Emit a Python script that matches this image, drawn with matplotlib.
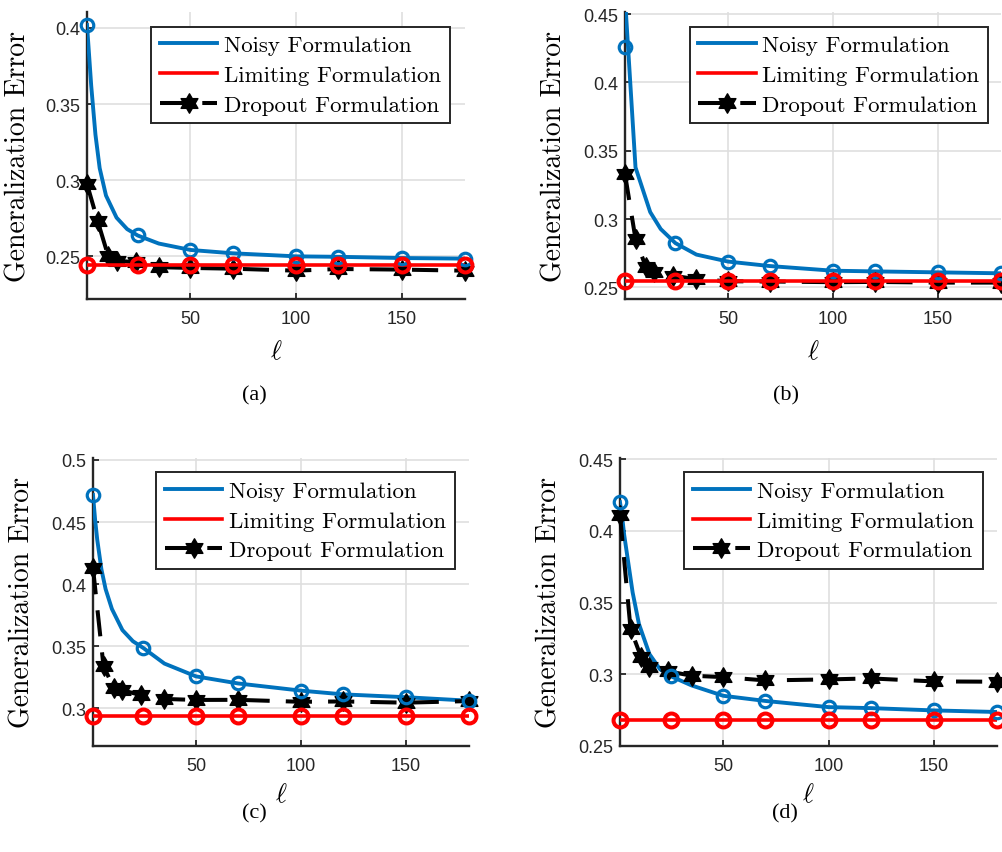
import numpy as np
import matplotlib
matplotlib.use("Agg")
import matplotlib.pyplot as plt
from matplotlib.path import Path

# ---------------- data ----------------
noisy_mk_x = [1, 25, 50, 70, 100, 120, 150, 180]
limit_x = [1, 25, 50, 70, 100, 120, 150, 180]
drop_x = [1, 6, 11, 15, 24, 35, 50, 70, 100, 120, 150, 180]
xticks = [50, 100, 150]

# (a)
a_noisy_x = [1, 3, 5, 7, 10, 15, 20, 25, 35, 50, 70, 100, 120, 150, 180]
a_noisy_y = [0.402, 0.362, 0.330, 0.308, 0.290, 0.2755, 0.268, 0.2638, 0.2585,
             0.2543, 0.2521, 0.2501, 0.2498, 0.2490, 0.2486]
a_noisy_mk = [0.402, 0.2638, 0.2543, 0.2521, 0.2501, 0.2498, 0.2490, 0.2486]
a_limit = [0.2443, 0.2443, 0.2443, 0.2443, 0.2443, 0.2443, 0.2443, 0.2443]
a_drop = [0.2976, 0.2735, 0.2505, 0.2473, 0.2462, 0.2430, 0.2425, 0.2420,
          0.2407, 0.2418, 0.2414, 0.2407]
a_yticks = [0.25, 0.3, 0.35, 0.4]
a_yticklabels = ["0.25", "0.3", "0.35", "0.4"]

# (b)
b_noisy_x = [1, 6, 13, 18, 25, 35, 50, 70, 100, 120, 150, 180]
b_noisy_y = [0.462, 0.3378, 0.3051, 0.2927, 0.2824, 0.2740, 0.2689, 0.2656,
             0.2622, 0.2617, 0.2610, 0.2603]
b_noisy_mk = [0.4256, 0.2824, 0.2689, 0.2656, 0.2622, 0.2617, 0.2610, 0.2603]
b_limit = [0.2545, 0.2545, 0.2545, 0.2545, 0.2545, 0.2545, 0.2545, 0.2545]
b_drop = [0.3329, 0.2854, 0.2647, 0.2610, 0.2585, 0.2560, 0.2545, 0.2543,
          0.2538, 0.2540, 0.2535, 0.2535]
b_yticks = [0.25, 0.3, 0.35, 0.4, 0.45]
b_yticklabels = ["0.25", "0.3", "0.35", "0.4", "0.45"]

# (c)
c_noisy_x = [1, 2, 3, 5, 7, 10, 15, 20, 25, 35, 50, 70, 100, 120, 150, 180]
c_noisy_y = [0.4718, 0.452, 0.436, 0.412, 0.396, 0.380, 0.363, 0.354, 0.3485,
             0.336, 0.3257, 0.3200, 0.3142, 0.3112, 0.3089, 0.3061]
c_noisy_mk = [0.4718, 0.3485, 0.3257, 0.3200, 0.3142, 0.3112, 0.3089, 0.3061]
c_limit = [0.2941, 0.2941, 0.2941, 0.2941, 0.2941, 0.2941, 0.2941, 0.2941]
c_drop = [0.4128, 0.3340, 0.3160, 0.3145, 0.3105, 0.3075, 0.3067, 0.3068,
          0.3052, 0.3055, 0.3045, 0.3058]
c_yticks = [0.3, 0.35, 0.4, 0.45, 0.5]
c_yticklabels = ["0.3", "0.35", "0.4", "0.45", "0.5"]

# (d)
d_noisy_x = [1, 2, 3, 5, 7, 10, 15, 20, 25, 35, 50, 70, 100, 120, 150, 180]
d_noisy_y = [0.4199, 0.410, 0.397, 0.377, 0.357, 0.335, 0.314, 0.3035, 0.2987,
             0.2922, 0.2850, 0.2814, 0.2771, 0.2764, 0.2748, 0.2737]
d_noisy_mk = [0.4199, 0.2987, 0.2850, 0.2814, 0.2771, 0.2764, 0.2748, 0.2737]
d_limit = [0.2678, 0.2678, 0.2678, 0.2678, 0.2678, 0.2678, 0.2678, 0.2678]
d_drop = [0.4110, 0.3317, 0.3120, 0.3050, 0.3020, 0.2990, 0.2980, 0.2957,
          0.2964, 0.2971, 0.2950, 0.2948]
d_yticks = [0.25, 0.3, 0.35, 0.4, 0.45]
d_yticklabels = ["0.25", "0.3", "0.35", "0.4", "0.45"]

legend_labels = ["Noisy Formulation", "Limiting Formulation", "Dropout Formulation"]
captions = ["(a)", "(b)", "(c)", "(d)"]

# ---------------- style ----------------
BLUE = "#0072BD"
RED = "#FF0000"
AXC = "#262626"
W, H = 1003, 853

plt.rcParams["mathtext.fontset"] = "cm"


def hexagram():
    verts = []
    for k in range(12):
        ang = np.pi / 2 + k * np.pi / 6
        r = 1.0 if k % 2 == 0 else 1 / np.sqrt(3)
        verts.append((r * np.cos(ang), r * np.sin(ang)))
    verts.append(verts[0])
    codes = [Path.MOVETO] + [Path.LINETO] * 11 + [Path.CLOSEPOLY]
    return Path(verts, codes)


STAR = hexagram()

fig = plt.figure(figsize=(W / 100, H / 100), dpi=100)


def px_rect(l, t, r, b):
    return [l / W, 1 - b / H, (r - l) / W, (b - t) / H]


panels = [
    dict(rect=px_rect(87, 13, 465, 300), ylim=(0.2221, 0.4105),
         nx=a_noisy_x, ny=a_noisy_y, nmk=a_noisy_mk, lim=a_limit, drop=a_drop,
         yt=a_yticks, ytl=a_yticklabels, leg=(450, 27.7), cpos=(254, 396),
         ylx=-0.148, xly=-0.135),
    dict(rect=px_rect(625, 13, 1001, 300), ylim=(0.2415, 0.4515),
         nx=b_noisy_x, ny=b_noisy_y, nmk=b_noisy_mk, lim=b_limit, drop=b_drop,
         yt=b_yticks, ytl=b_yticklabels, leg=(988.3, 27.7), cpos=(786, 396),
         ylx=-0.152, xly=-0.135),
    dict(rect=px_rect(93, 459, 469, 747), ylim=(0.2696, 0.5016),
         nx=c_noisy_x, ny=c_noisy_y, nmk=c_noisy_mk, lim=c_limit, drop=c_drop,
         yt=c_yticks, ytl=c_yticklabels, leg=(455, 473.3), cpos=(254, 814),
         ylx=-0.154, xly=-0.122),
    dict(rect=px_rect(620, 459, 997, 747), ylim=(0.25, 0.4507),
         nx=d_noisy_x, ny=d_noisy_y, nmk=d_noisy_mk, lim=d_limit, drop=d_drop,
         yt=d_yticks, ytl=d_yticklabels, leg=(982.7, 473.3), cpos=(785, 814),
         ylx=-0.152, xly=-0.122),
]

for p, cap in zip(panels, captions):
    ax = fig.add_axes(p["rect"])
    l1, = ax.plot(p["nx"], p["ny"], color=BLUE, lw=2.8, zorder=3,
                  solid_joinstyle="round")
    l3, = ax.plot(drop_x, p["drop"], color="k", lw=2.9, dashes=(6.5, 4),
                  marker=STAR, ms=14, mfc="k", mec="k", mew=1.0,
                  clip_on=False, zorder=4)
    ax.plot(noisy_mk_x, p["nmk"], ls="none", marker="o", ms=9, mfc="none",
            mec=BLUE, mew=2.3, clip_on=False, zorder=6)
    l2, = ax.plot(limit_x, p["lim"], color=RED, lw=2.6, zorder=5)
    ax.plot(limit_x, p["lim"], ls="none", marker="o", ms=10, mfc="none",
            mec=RED, mew=2.9, clip_on=False, zorder=7)

    ax.set_xlim(1, 180)
    ax.set_ylim(*p["ylim"])
    ax.set_xticks(xticks)
    ax.set_xticklabels([str(t) for t in xticks])
    ax.set_yticks(p["yt"])
    ax.set_yticklabels(p["ytl"])
    ax.grid(True, color="#DFDFDF", lw=1.2)
    ax.set_axisbelow(True)
    for s in ("top", "right"):
        ax.spines[s].set_visible(False)
    for s in ("left", "bottom"):
        ax.spines[s].set_color(AXC)
        ax.spines[s].set_linewidth(1.7)
    ax.tick_params(axis="both", direction="in", length=4, width=1.3,
                   color=AXC, labelcolor=AXC)
    ax.tick_params(axis="x", pad=8)
    ax.tick_params(axis="y", pad=5)
    for lab in ax.get_xticklabels() + ax.get_yticklabels():
        lab.set_fontfamily("Liberation Sans")
        lab.set_fontsize(13)

    ax.set_ylabel("Generalization Error", fontfamily="cmr10", fontsize=20)
    ax.yaxis.set_label_coords(p["ylx"], 0.5)
    ax.set_xlabel(r"$\ell$", fontsize=19)
    ax.xaxis.set_label_coords(0.5, p["xly"])

    lx, ly = p["leg"]
    leg = ax.legend([l1, l2, l3], legend_labels, loc="upper right",
                    bbox_to_anchor=(lx / W, 1 - ly / H),
                    bbox_transform=fig.transFigure, borderaxespad=0,
                    prop={"family": "cmr10", "size": 16.5},
                    handlelength=2.5, handletextpad=0.3, labelspacing=0.42,
                    borderpad=0.38, numpoints=1, fancybox=False,
                    framealpha=1, edgecolor=AXC)
    leg.get_frame().set_linewidth(1.4)
    leg.set_zorder(10)

    cx, cy = p["cpos"]
    fig.text(cx / W, 1 - cy / H, cap, ha="center", va="center",
             fontfamily="Liberation Serif", fontsize=16)

fig.savefig("out.png", dpi=100)
